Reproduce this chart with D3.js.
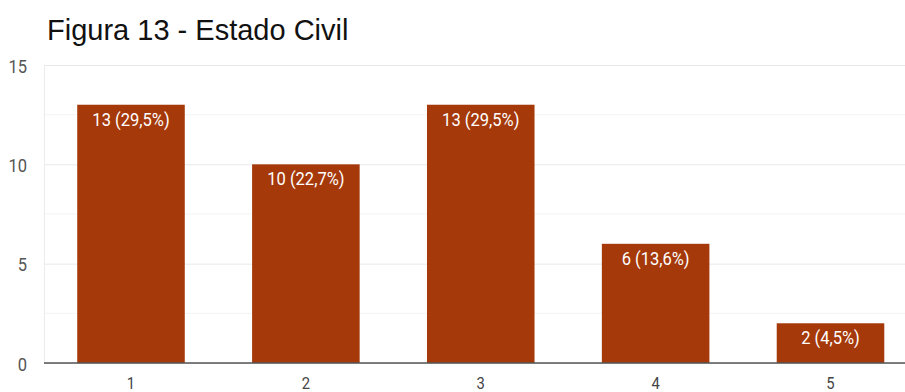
<!DOCTYPE html>
<html>
<head>
<meta charset="utf-8">
<script src="https://cdn.jsdelivr.net/npm/d3@7"></script>
<style>
  html, body { margin: 0; padding: 0; background: #fff; overflow: hidden; }
  svg { display: block; }
</style>
</head>
<body>
<svg id="chart" width="905" height="392"></svg>
<script>
// Estado civil: respostas por categoria
const categories = ["1", "2", "3", "4", "5"];
const counts = [13, 10, 13, 6, 2];
const percents = ["29,5%", "22,7%", "29,5%", "13,6%", "4,5%"];
const yTicks = [0, 5, 10, 15];
const yMinorTicks = [2.5, 7.5, 12.5];

const svg = d3.select("#chart");
const margin = { left: 44, top: 65, bottom: 363 };
const plotRight = 917.5;
const squeeze = 0.87; // narrow glyphs for the axis and bar labels
const labelFont = "Roboto, sans-serif";

const x = d3.scaleBand()
  .domain(categories)
  .range([margin.left, plotRight])
  .paddingInner(0.385)
  .paddingOuter(0.19);

const y = d3.scaleLinear()
  .domain([0, 15])
  .range([margin.bottom, margin.top]);

// Title
svg.append("text")
  .attr("x", 47)
  .attr("y", 40)
  .attr("font-family", "Liberation Sans, Arial, sans-serif")
  .attr("font-size", 29)
  .attr("fill", "#111")
  .text("Figura 13 - Estado Civil");

// Minor gridlines
svg.append("g")
  .selectAll("line")
  .data(yMinorTicks)
  .join("line")
  .attr("x1", margin.left).attr("x2", 905)
  .attr("y1", d => y(d)).attr("y2", d => y(d))
  .attr("stroke", "#f3f3f3")
  .attr("stroke-width", 1);

// Major gridlines via axis
const yAxis = d3.axisLeft(y)
  .tickValues(yTicks)
  .tickSize(-(905 - margin.left))
  .tickPadding(16);

const gy = svg.append("g")
  .attr("transform", `translate(${margin.left},0)`)
  .call(yAxis);
gy.select(".domain").attr("stroke", "#ececec");
gy.selectAll(".tick line").attr("stroke", "#e8e8e8");
gy.selectAll(".tick text")
  .attr("x", 0)
  .attr("dy", null)
  .attr("transform", `translate(-17,7) scale(${squeeze},1)`)
  .attr("font-family", labelFont)
  .attr("font-size", 19)
  .attr("fill", "#555");

// Bars
svg.append("g")
  .selectAll("rect")
  .data(counts)
  .join("rect")
  .attr("x", (d, i) => x(categories[i]))
  .attr("y", d => y(d))
  .attr("width", x.bandwidth())
  .attr("height", d => y(0) - y(d))
  .attr("fill", "#a5390a");

// Value labels inside bars
svg.append("g")
  .selectAll("text")
  .data(counts)
  .join("text")
  .attr("transform", (d, i) =>
    `translate(${x(categories[i]) + x.bandwidth() / 2},${y(d) + 21}) scale(${squeeze},1)`)
  .attr("text-anchor", "middle")
  .attr("font-family", labelFont)
  .attr("font-size", 19)
  .attr("fill", "#fff")
  .text((d, i) => `${d} (${percents[i]})`);

// X axis
const gx = svg.append("g")
  .attr("transform", `translate(0,${y(0)})`)
  .call(d3.axisBottom(x).tickSize(0));
gx.select(".domain").attr("stroke", "#555").attr("stroke-width", 1.5)
  .attr("d", `M${margin.left},0H905`);
gx.selectAll(".tick text")
  .attr("y", 0)
  .attr("dy", null)
  .attr("transform", `translate(0,25.5) scale(${squeeze},1)`)
  .attr("font-family", labelFont)
  .attr("font-size", 17)
  .attr("fill", "#444");
</script>
</body>
</html>
